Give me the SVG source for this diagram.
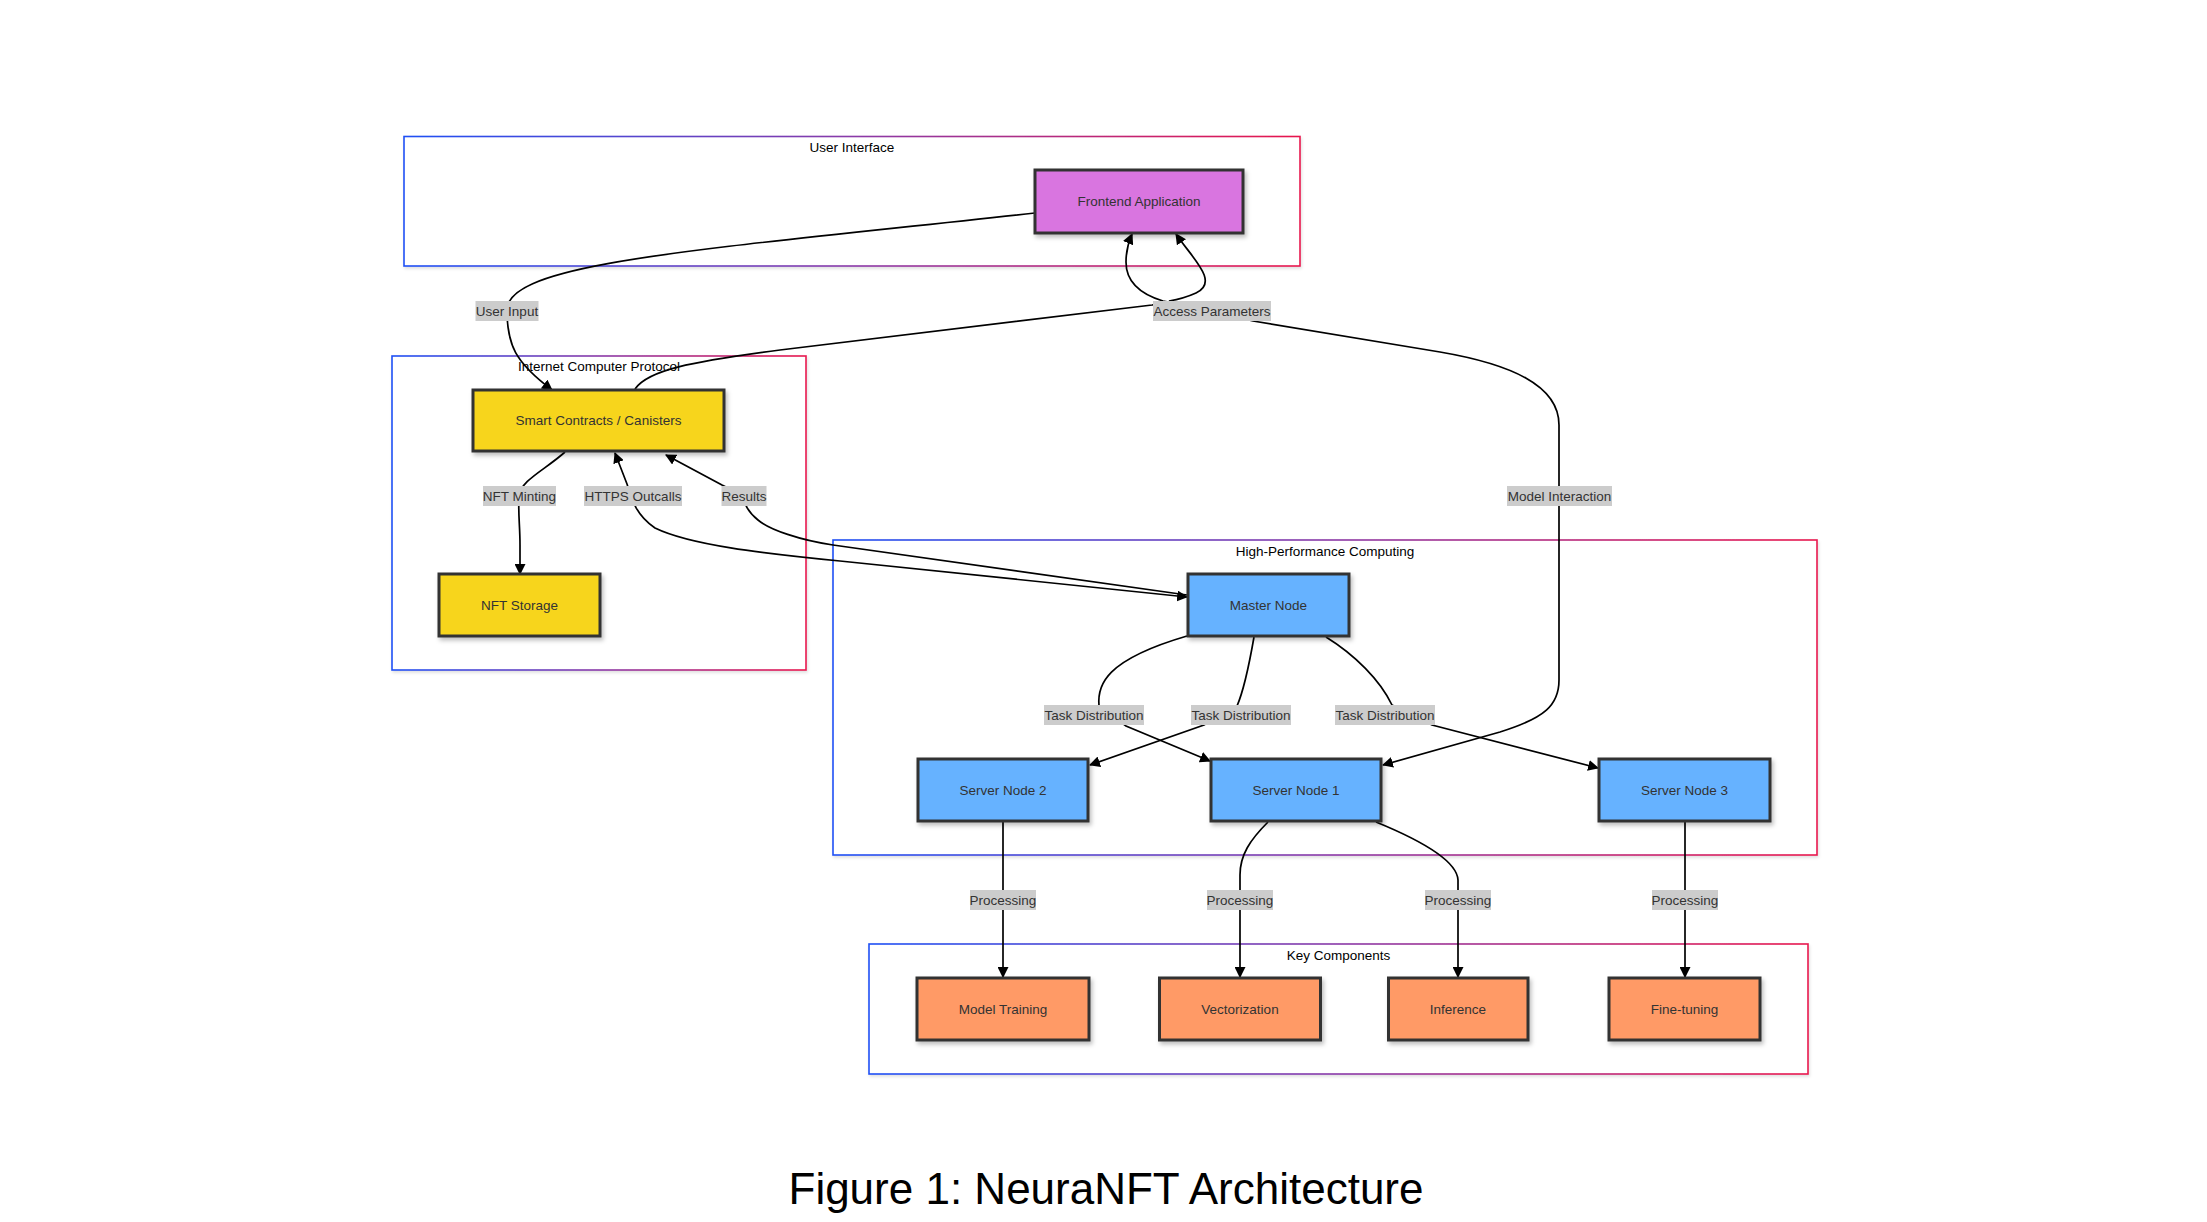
<svg xmlns="http://www.w3.org/2000/svg" width="2207" height="1222" viewBox="0 0 2207 1222">
<style>
.cl{fill:#fff;stroke:url(#cg);stroke-width:1.6;filter:url(#csh)}
.clt{font-family:"Liberation Sans",Arial,sans-serif;font-size:13.5px;fill:#000;text-anchor:middle;dominant-baseline:central}
.nd{stroke:#333;stroke-width:3;filter:url(#nsh)}
.nt{font-family:"Liberation Sans",Arial,sans-serif;font-size:13.5px;fill:#333;text-anchor:middle;dominant-baseline:central}
.purple{fill:#d975e0}
.yellow{fill:#f7d51d}
.blue{fill:#66b2ff}
.orange{fill:#ff9a66}
.ed{fill:none;stroke:#000;stroke-width:1.7}
.lb{fill:#cccccc}
.lt{font-family:"Liberation Sans",Arial,sans-serif;font-size:13.5px;fill:#333;text-anchor:middle;dominant-baseline:central}
.title{font-family:"Liberation Sans",Arial,sans-serif;font-size:44px;fill:#000;text-anchor:middle}
</style>
<defs>
<linearGradient id="cg" x1="0" y1="0" x2="1" y2="0">
<stop offset="0" stop-color="#1f50f5"/>
<stop offset="0.5" stop-color="#8a3aa8"/>
<stop offset="1" stop-color="#e8174e"/>
</linearGradient>
<filter id="nsh" x="-10%" y="-10%" width="125%" height="130%">
<feDropShadow dx="2" dy="3" stdDeviation="2" flood-color="#000" flood-opacity="0.25"/>
</filter>
<filter id="csh" x="-5%" y="-5%" width="110%" height="115%">
<feDropShadow dx="1" dy="2" stdDeviation="1.5" flood-color="#000" flood-opacity="0.12"/>
</filter>
<marker id="arrow" viewBox="0 0 10 10" refX="9" refY="5" markerWidth="11" markerHeight="11" markerUnits="userSpaceOnUse" orient="auto-start-reverse">
<path d="M0,0 L10,5 L0,10 z" fill="#000"/>
</marker>
</defs>
<rect width="2207" height="1222" fill="#fff"/>

<g id="clusters">
<g id="cluster-ui"><rect class="cl" x="404" y="136.5" width="896" height="129.5"/><text class="clt" x="852" y="147">User Interface</text></g>
<g id="cluster-icp"><rect class="cl" x="392" y="356" width="414" height="314"/><text class="clt" x="599" y="366">Internet Computer Protocol</text></g>
<g id="cluster-hpc"><rect class="cl" x="833" y="540" width="984" height="315"/><text class="clt" x="1325" y="551">High-Performance Computing</text></g>
<g id="cluster-key"><rect class="cl" x="869" y="944" width="939" height="130"/><text class="clt" x="1338.5" y="955">Key Components</text></g>
</g>

<g id="connectors">
<path class="ed" marker-end="url(#arrow)" d="M1035,213 C700,250 507,262 507,310 C507,345 515,362 552,390"/>
<path class="ed" marker-end="url(#arrow)" d="M635,389 C648,370 690,362 780,350 L1152,305 C1165,303 1172,302 1163,301 C1140,294 1126,282 1126,262 C1126,250 1129,241 1132,234"/>
<path class="ed" marker-start="url(#arrow)" marker-end="url(#arrow)" d="M1176,234 C1192,258 1220,282 1196,293 C1185,298 1175,300 1169,301 L1253,321 L1440,352 C1510,364 1559,385 1559,425 L1559,680 C1559,705 1545,718 1500,732 L1383,765"/>
<path class="ed" marker-end="url(#arrow)" d="M565,452 C545,470 521,480 519,496 C518,515 520,525 520,545 L520,574"/>
<path class="ed" marker-start="url(#arrow)" marker-end="url(#arrow)" d="M615,453 L627,484 C632,500 636,515 655,528 C690,545 760,553 840,561 L1187,597"/>
<path class="ed" marker-end="url(#arrow)" d="M1187,595 L833,545 C800,540 770,530 758,520 C748,512 744,505 744,496 L722,485 L666,455"/>
<path class="ed" marker-end="url(#arrow)" d="M1187,636 C1105,660 1097,685 1099,706 L1126,726 L1210,761"/>
<path class="ed" marker-end="url(#arrow)" d="M1254,637 C1250,660 1244,690 1237,706 L1204,725 L1090,765"/>
<path class="ed" marker-end="url(#arrow)" d="M1326,637 C1355,655 1380,680 1392,705 L1432,725 L1598,768"/>
<path class="ed" marker-end="url(#arrow)" d="M1003,822 L1003,977"/>
<path class="ed" marker-end="url(#arrow)" d="M1268,822 C1250,840 1240,855 1240,875 L1240,977"/>
<path class="ed" marker-end="url(#arrow)" d="M1376,822 C1420,840 1457,860 1458,880 L1458,977"/>
<path class="ed" marker-end="url(#arrow)" d="M1685,822 L1685,977"/>
</g>

<g id="edge-labels">
<rect class="lb" x="475.5" y="301" width="63" height="20"/><text class="lt" x="507" y="311">User Input</text>
<rect class="lb" x="1153" y="301" width="118" height="20"/><text class="lt" x="1212" y="311">Access Parameters</text>
<rect class="lb" x="483" y="486" width="73" height="20"/><text class="lt" x="519.5" y="496">NFT Minting</text>
<rect class="lb" x="584" y="486" width="98" height="20"/><text class="lt" x="633" y="496">HTTPS Outcalls</text>
<rect class="lb" x="721.5" y="486" width="45" height="20"/><text class="lt" x="744" y="496">Results</text>
<rect class="lb" x="1507" y="486" width="105" height="20"/><text class="lt" x="1559.5" y="496">Model Interaction</text>
<rect class="lb" x="1044" y="705" width="100" height="20"/><text class="lt" x="1094" y="715">Task Distribution</text>
<rect class="lb" x="1191" y="705" width="100" height="20"/><text class="lt" x="1241" y="715">Task Distribution</text>
<rect class="lb" x="1335" y="705" width="100" height="20"/><text class="lt" x="1385" y="715">Task Distribution</text>
<rect class="lb" x="970" y="890" width="66" height="20"/><text class="lt" x="1003" y="900">Processing</text>
<rect class="lb" x="1207" y="890" width="66" height="20"/><text class="lt" x="1240" y="900">Processing</text>
<rect class="lb" x="1425" y="890" width="66" height="20"/><text class="lt" x="1458" y="900">Processing</text>
<rect class="lb" x="1652" y="890" width="66" height="20"/><text class="lt" x="1685" y="900">Processing</text>
</g>

<g id="node-frontend"><rect class="nd purple" x="1035" y="170" width="208" height="63"/><text class="nt" x="1139" y="201.5">Frontend Application</text></g>
<g id="node-smart-contracts"><rect class="nd yellow" x="473" y="390" width="251" height="61"/><text class="nt" x="598.5" y="420.5">Smart Contracts / Canisters</text></g>
<g id="node-nft-storage"><rect class="nd yellow" x="439" y="574" width="161" height="62"/><text class="nt" x="519.5" y="605">NFT Storage</text></g>
<g id="node-master"><rect class="nd blue" x="1188" y="574" width="161" height="62"/><text class="nt" x="1268.5" y="605">Master Node</text></g>
<g id="node-server2"><rect class="nd blue" x="918" y="759" width="170" height="62"/><text class="nt" x="1003" y="790">Server Node 2</text></g>
<g id="node-server1"><rect class="nd blue" x="1211" y="759" width="170" height="62"/><text class="nt" x="1296" y="790">Server Node 1</text></g>
<g id="node-server3"><rect class="nd blue" x="1599" y="759" width="171" height="62"/><text class="nt" x="1684.5" y="790">Server Node 3</text></g>
<g id="node-model-training"><rect class="nd orange" x="917" y="978" width="172" height="62"/><text class="nt" x="1003" y="1009">Model Training</text></g>
<g id="node-vectorization"><rect class="nd orange" x="1159.5" y="978" width="161" height="62"/><text class="nt" x="1240" y="1009">Vectorization</text></g>
<g id="node-inference"><rect class="nd orange" x="1388.5" y="978" width="139.5" height="62"/><text class="nt" x="1458" y="1009">Inference</text></g>
<g id="node-fine-tuning"><rect class="nd orange" x="1609" y="978" width="151" height="62"/><text class="nt" x="1684.5" y="1009">Fine-tuning</text></g>

<text class="title" x="1106" y="1204">Figure 1: NeuraNFT Architecture</text>
</svg>
